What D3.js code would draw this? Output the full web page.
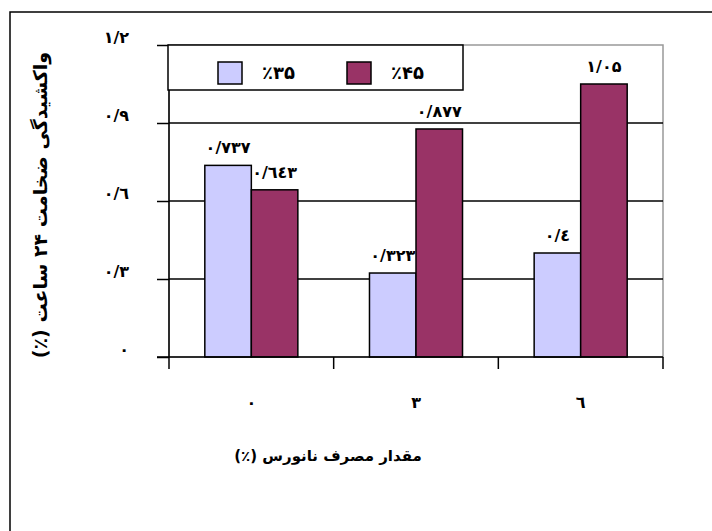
<!DOCTYPE html>
<html lang="fa">
<head>
<meta charset="utf-8">
<title>واکشیدگی ضخامت</title>
<script src="https://cdn.jsdelivr.net/npm/d3@7"></script>
<style>
	body { margin: 0; background: #fff; }
	text { font-family: "DejaVu Sans", sans-serif; font-weight: bold; fill: #000; }
	.tick text { font-size: 16px; }
	.label { font-size: 16px; }
	.rtl { direction: rtl; unicode-bidi: embed; }
</style>
</head>
<body>
<script>
// data
var categories = ["۰", "۳", "٦"];
var series = ["٪۳۵", "٪۴۵"];
var values35 = [0.737, 0.323, 0.4];
var values45 = [0.643, 0.877, 1.05];
var labels35 = ["۰/۷۳۷", "۰/۳۲۳", "۰/٤"];
var labels45 = ["۰/٦٤٣", "۰/۸۷۷", "۱/۰۵"];
var yTicks = [0, 0.3, 0.6, 0.9, 1.2];
var yTickLabels = ["۰", "۰/۳", "۰/٦", "۰/۹", "۱/۲"];
var colors = ["#ccccff", "#993366"];

var w = 712, h = 531;
var pLeft = 169, pRight = 663, pTop = 45, pBottom = 357;

var svg = d3.select("body").append("svg")
	.attr("width", w)
	.attr("height", h);

// outer chart frame (runs off the right and bottom)
svg.append("rect")
	.attr("x", 10).attr("y", 12)
	.attr("width", 760).attr("height", 560)
	.attr("fill", "none").attr("stroke", "#000").attr("stroke-width", 1.5);

var x0 = d3.scaleBand().domain(categories).range([pLeft, pRight]);
var x1 = d3.scaleBand().domain(series).range([0, x0.bandwidth()])
	.paddingInner(0).paddingOuter(0.77);
var y = d3.scaleLinear().domain([0, 1.2]).range([pBottom, pTop]);

// plot area
svg.append("rect")
	.attr("x", pLeft).attr("y", pTop)
	.attr("width", pRight - pLeft).attr("height", pBottom - pTop)
	.attr("fill", "none").attr("stroke", "#999").attr("stroke-width", 1.5);

// gridlines
svg.append("g").selectAll("line")
	.data(yTicks.filter(function(d) { return d > 0 && d < 1.2; }))
	.enter().append("line")
	.attr("x1", pLeft).attr("x2", pRight)
	.attr("y1", function(d) { return y(d); })
	.attr("y2", function(d) { return y(d); })
	.attr("stroke", "#000").attr("stroke-width", 1.5);

// bars
var rows = categories.map(function(c, i) {
	return [
		{ cat: c, s: series[0], v: values35[i], t: labels35[i], c: colors[0] },
		{ cat: c, s: series[1], v: values45[i], t: labels45[i], c: colors[1] }
	];
});

var groups = svg.append("g").selectAll("g")
	.data(rows).enter().append("g")
	.attr("transform", function(d) { return "translate(" + x0(d[0].cat) + ",0)"; });

groups.selectAll("rect")
	.data(function(d) { return d; })
	.enter().append("rect")
	.attr("x", function(d) { return x1(d.s); })
	.attr("y", function(d) { return y(d.v); })
	.attr("width", x1.bandwidth())
	.attr("height", function(d) { return pBottom - y(d.v); })
	.attr("fill", function(d) { return d.c; })
	.attr("stroke", "#000").attr("stroke-width", 1.5);

groups.selectAll("text")
	.data(function(d) { return d; })
	.enter().append("text")
	.attr("class", "label")
	.attr("x", function(d) { return x1(d.s) + x1.bandwidth() / 2; })
	.attr("y", function(d) { return y(d.v) - 12; })
	.attr("text-anchor", "middle")
	.text(function(d) { return d.t; });

// axes
var yAxis = d3.axisLeft(y)
	.tickValues(yTicks)
	.tickSize(12)
	.tickPadding(28)
	.tickFormat(function(d, i) { return yTickLabels[i]; });

svg.append("g")
	.attr("class", "y axis")
	.attr("transform", "translate(" + pLeft + ",0)")
	.call(yAxis)
	.call(function(g) {
		g.select(".domain").remove();
		g.selectAll("line").attr("stroke", "#000").attr("stroke-width", 1.5);
		g.selectAll("text").attr("dy", "-0.15em");
	});

svg.append("line")
	.attr("x1", pLeft).attr("x2", pLeft)
	.attr("y1", pTop).attr("y2", pBottom + 12)
	.attr("stroke", "#000").attr("stroke-width", 1.5);

svg.append("line")
	.attr("x1", pLeft - 12).attr("x2", pRight)
	.attr("y1", pBottom).attr("y2", pBottom)
	.attr("stroke", "#000").attr("stroke-width", 1.5);

var xAxis = d3.axisBottom(x0).tickSize(0).tickPadding(40);
svg.append("g")
	.attr("class", "x axis")
	.attr("transform", "translate(0," + pBottom + ")")
	.call(xAxis)
	.call(function(g) { g.select(".domain").remove(); });

// category boundary ticks
svg.append("g").selectAll("line")
	.data(categories.slice(1).concat(["end"]))
	.enter().append("line")
	.attr("x1", function(d) { return d === "end" ? pRight : x0(d); })
	.attr("x2", function(d) { return d === "end" ? pRight : x0(d); })
	.attr("y1", pBottom).attr("y2", pBottom + 12)
	.attr("stroke", "#000").attr("stroke-width", 1.5);

// axis titles
svg.append("text")
	.attr("class", "rtl")
	.attr("transform", "translate(47," + ((pTop + pBottom) / 2 + 4) + ") rotate(-90)")
	.attr("text-anchor", "middle")
	.style("font-size", "19px")
	.text("واکشیدگی ضخامت ۲۴ ساعت (٪)");

svg.append("text")
	.attr("class", "rtl")
	.attr("x", 328).attr("y", 461)
	.attr("text-anchor", "middle")
	.style("font-size", "15px")
	.text("مقدار مصرف نانورس (٪)");

// legend
var legend = svg.append("g");
legend.append("rect")
	.attr("x", 168).attr("y", 45)
	.attr("width", 295).attr("height", 45)
	.attr("fill", "#fff").attr("stroke", "#000").attr("stroke-width", 1.5);

var items = legend.selectAll("g.item")
	.data(series).enter().append("g")
	.attr("class", "item")
	.attr("transform", function(d, i) { return "translate(" + (218 + i * 129) + ",62)"; });

items.append("rect")
	.attr("width", 24).attr("height", 22)
	.attr("fill", function(d, i) { return colors[i]; })
	.attr("stroke", "#000").attr("stroke-width", 1.5);

items.append("text")
	.attr("x", 44).attr("y", 17)
	.style("font-size", "18px")
	.text(function(d) { return d; });
</script>
</body>
</html>
